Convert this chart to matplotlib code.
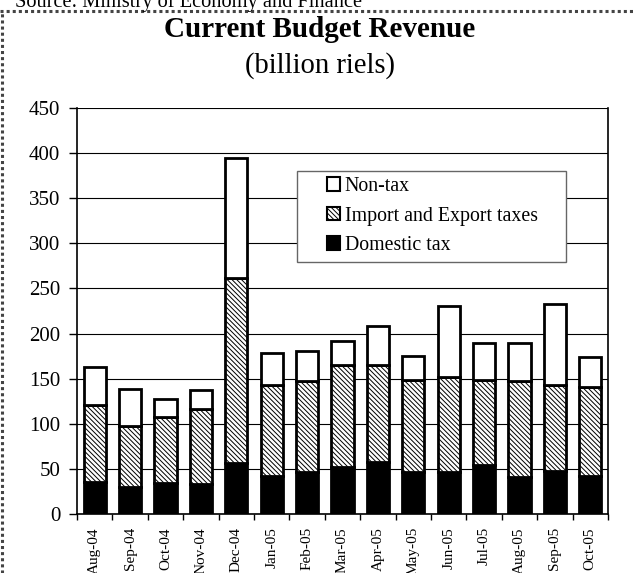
import matplotlib

matplotlib.use("Agg")
import matplotlib.pyplot as plt
from matplotlib.lines import Line2D
from matplotlib.patches import Patch, Rectangle
import numpy as np

MONTHS = ["Aug-04", "Sep-04", "Oct-04", "Nov-04", "Dec-04", "Jan-05", "Feb-05", "Mar-05",
          "Apr-05", "May-05", "Jun-05", "Jul-05", "Aug-05", "Sep-05", "Oct-05"]
DOMESTIC = [36, 30, 34, 33, 56, 42, 46, 52, 58, 46, 46, 54, 41, 48, 42]
IMPORT_EXPORT = [85, 68, 74, 83, 206, 101, 101, 113, 107, 103, 106, 94, 106, 95, 99]
NON_TAX = [42, 41, 19, 21, 133, 36, 34, 27, 43, 26, 78, 42, 42, 90, 33]
Y_TICKS = [0, 50, 100, 150, 200, 250, 300, 350, 400, 450]

plt.rcParams["font.family"] = ["Liberation Serif", "DejaVu Serif"]
plt.rcParams["hatch.linewidth"] = 0.7
HATCH = "\\" * 7


def main() -> int:
    fig = plt.figure(figsize=(6.36, 5.73), dpi=100)
    ax = fig.add_axes([77 / 636, 59 / 573, 531 / 636, 406 / 573])

    x = np.arange(len(MONTHS))
    dom = np.asarray(DOMESTIC, dtype=float)
    imp = np.asarray(IMPORT_EXPORT, dtype=float)
    non = np.asarray(NON_TAX, dtype=float)
    width = 0.63

    ax.bar(x, dom, width, color="black", edgecolor="black", linewidth=2, zorder=3)
    ax.bar(x, imp, width, bottom=dom, color="white", edgecolor="black", hatch=HATCH,
           linewidth=2, zorder=3)
    ax.bar(x, non, width, bottom=dom + imp, color="white", edgecolor="black", linewidth=2, zorder=3)

    ax.set_xlim(-0.5, len(MONTHS) - 0.5)
    ax.set_ylim(0, 450)
    ax.set_yticks(Y_TICKS)
    ax.tick_params(axis="y", labelsize=15, length=5.5, width=1, pad=6.5)
    ax.yaxis.grid(True, color="black", linewidth=0.8, zorder=0)
    ax.set_axisbelow(True)

    ax.set_xticks(x)
    ax.set_xticklabels(MONTHS, rotation=90, fontsize=11, va="top")
    ax.tick_params(axis="x", which="major", length=0, pad=9.4)
    ax.set_xticks(np.arange(-0.5, len(MONTHS)), minor=True)
    ax.tick_params(axis="x", which="minor", length=4, width=1)

    ax.spines["top"].set_visible(False)
    for side in ("left", "right", "bottom"):
        ax.spines[side].set_linewidth(1.2)

    # legend frame drawn separately so its padding matches the reference
    ax.add_patch(Rectangle((0.4143, 0.6207), 0.5066, 0.2241, transform=ax.transAxes,
                           facecolor="white", edgecolor="#666666", linewidth=1.0, zorder=4))
    handles = [
        Patch(facecolor="white", edgecolor="black", linewidth=1.5),
        Patch(facecolor="white", edgecolor="black", hatch=HATCH, linewidth=1.5),
        Patch(facecolor="black", edgecolor="black", linewidth=1.5),
    ]
    labels = ["Non-tax", "Import and Export taxes", "Domestic tax"]
    leg = ax.legend(handles, labels, loc="upper left", bbox_to_anchor=(0.4708, 0.830),
                    fontsize=14.3, frameon=False, handlelength=0.65, handleheight=0.65,
                    handletextpad=0.25, borderpad=0, labelspacing=0.53, borderaxespad=0)
    leg.set_zorder(5)

    fig.text(320 / 636, 1 - 37 / 573, "Current Budget Revenue", ha="center", va="baseline",
             fontsize=21, fontweight="bold")
    fig.text(320 / 636, 1 - 73 / 573, "(billion riels)", ha="center", va="baseline", fontsize=20.6)
    fig.text(15 / 636, 1 - 7 / 573, "Source: Ministry of Economy and Finance", ha="left",
             va="baseline", fontsize=14.7)

    fig.add_artist(Line2D([0, 1], [1 - 10.5 / 573] * 2, transform=fig.transFigure,
                          color="#444444", linestyle=(0, (1, 1)), linewidth=2.2))
    fig.add_artist(Line2D([1.5 / 636] * 2, [0, 1 - 10.5 / 573], transform=fig.transFigure,
                          color="#444444", linestyle=(0, (1, 1)), linewidth=2.2))

    fig.savefig("out.png", dpi=100)
    plt.close(fig)
    return 0


if __name__ == "__main__":
    raise SystemExit(main())
